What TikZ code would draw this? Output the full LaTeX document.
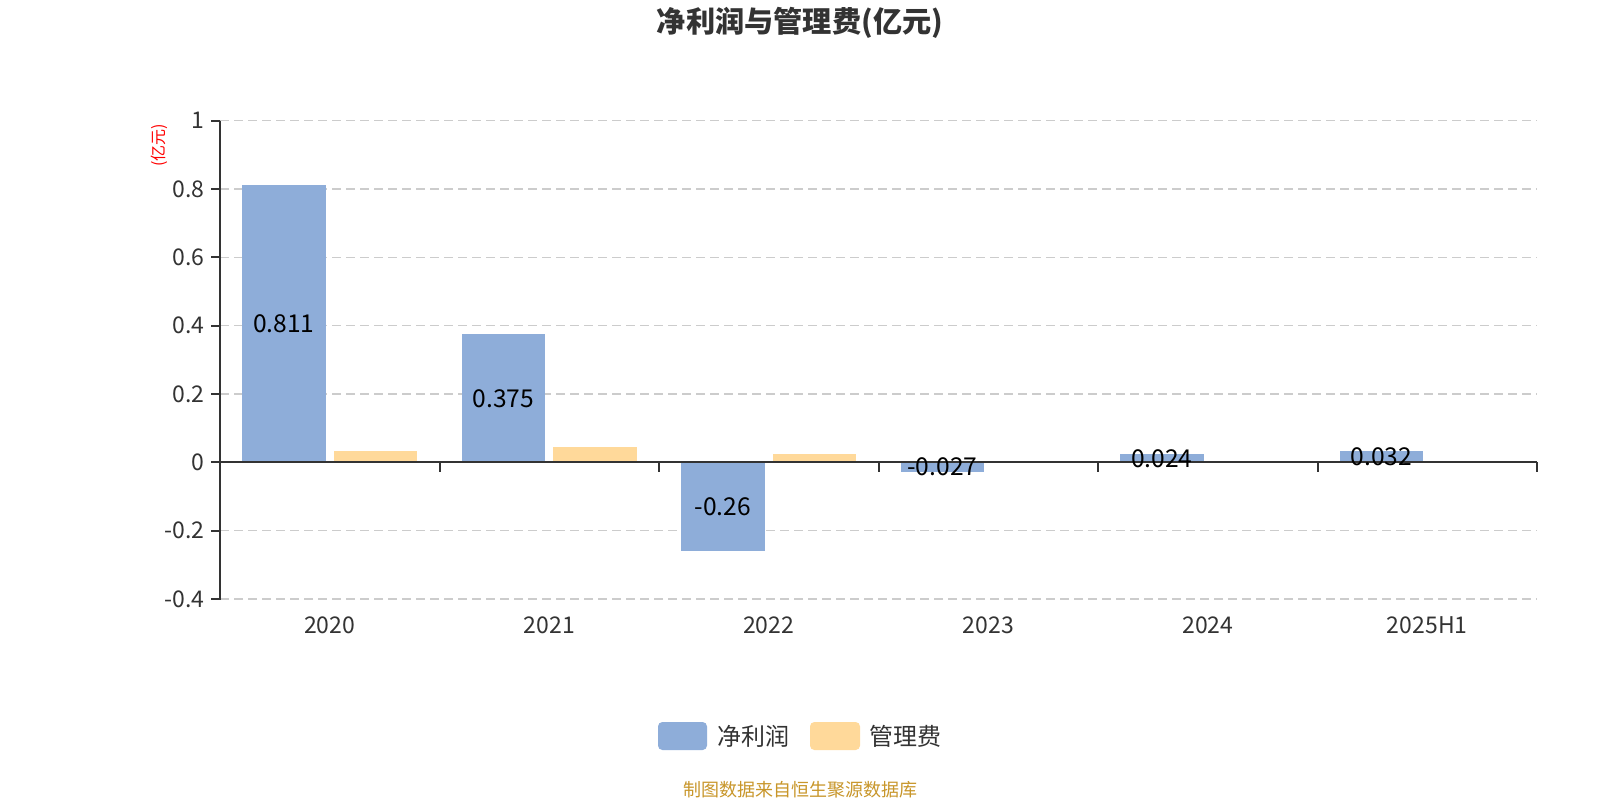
\documentclass[tikz,border=0pt]{standalone}
\usepackage{fontspec}
\setmainfont{Noto Sans CJK SC}
\definecolor{cblue}{HTML}{8EADD9}
\definecolor{corange}{HTML}{FFD99A}
\definecolor{axisc}{HTML}{333333}
\definecolor{gridc}{HTML}{CCCCCC}
\definecolor{footc}{HTML}{C8962A}
\definecolor{titlec}{HTML}{333333}
\tikzset{
  gridline/.style={draw=gridc, line width=0.65pt, dash pattern=on 4.5pt off 2.5pt},
  axisline/.style={draw=axisc, line width=1pt},
  netbar/.style={fill=cblue, draw=none},
  feebar/.style={fill=corange, draw=none},
  vallabel/.style={font=\fontsize{12.3}{14}\selectfont, text=black, inner sep=0pt},
  ticklabel/.style={font=\fontsize{11.5}{13}\selectfont, text=axisc, inner sep=0pt},
  catlabel/.style={font=\fontsize{11.5}{13}\selectfont, text=axisc, inner sep=0pt},
  legendbox/.style={rounded corners=2.2pt, draw=none},
  legendtext/.style={font=\fontsize{12}{14}\selectfont, text=axisc, inner sep=0pt, anchor=west},
}
\begin{document}
\begin{tikzpicture}[x=0.5pt,y=-0.5pt]
\useasboundingbox (0,0) rectangle (1600,800);
\fill[white] (0,0) rectangle (1600,800);
% grid
\foreach \v/\n in {1/a,0.8/b,0.6/c,0.4/d,0.2/e,-0.2/f,-0.4/g}{
  \coordinate (gl\n) at (220,{462.4-341.7*\v});
  \coordinate (gr\n) at (1537,{462.4-341.7*\v});
  \draw[gridline] (gl\n) -- (gr\n);
}
% bars
\foreach \i/\a/\b in {0/0.811/0.034,1/0.375/0.046,2/-0.26/0.025,3/-0.027/0.004,4/0.024/0.002,5/0.032/0.001}{
  \pgfmathsetmacro{\c}{220+219.5*(\i+0.5)}
  \fill[netbar] ({\c-87.7},462.4) rectangle ({\c-4.2},{462.4-341.7*\a});
  \fill[feebar] ({\c+4.2},462.4) rectangle ({\c+87.7},{462.4-341.7*\b});
}
% axes
\coordinate (ytop) at (220,120.7);
\coordinate (ybot) at (220,600);
\coordinate (xl) at (220,462.4);
\coordinate (xr) at (1537,462.4);
\draw[axisline] (ytop) -- (ybot);
\draw[axisline] (xl) -- (xr);
\foreach \v/\t/\n in {1/1/a,0.8/0.8/b,0.6/0.6/c,0.4/0.4/d,0.2/0.2/e,0/0/z,-0.2/-0.2/f,-0.4/-0.4/g}{
  \coordinate (tk\n) at (211,{462.4-341.7*\v});
  \draw[axisline] (tk\n) -- ++(9,0);
  \node[ticklabel, anchor=east] (yl\n) at (205,{462.4-341.7*\v}) {\t};
}
\foreach \k in {0,...,6}{
  \coordinate (xt\k) at ({220+219.5*\k},462.4);
  \draw[axisline] (xt\k) -- ++(0,10);
}
% value labels (centred on the blue bars)
\foreach \i/\a/\lab in {0/0.811/0.811,1/0.375/0.375,2/-0.26/-0.26,3/-0.027/-0.027,4/0.024/0.024,5/0.032/0.032}{
  \pgfmathsetmacro{\c}{220+219.5*(\i+0.5)-45.95}
  \node[vallabel] (v\i) at (\c,{462.4-341.7*\a/2}) {\lab};
}
% category labels
\foreach \i/\y in {0/2020,1/2021,2/2022,3/2023,4/2024,5/2025H1}{
  \node[catlabel] (cat\i) at ({220+219.5*(\i+0.5)},625) {\y};
}
% title
\node[font=\fontsize{14.6}{16}\selectfont\bfseries, text=titlec, inner sep=0pt] (title) at (800,23) {净利润与管理费(亿元)};
% y unit
\node[font=\fontsize{8}{9}\selectfont, text=red, rotate=90, inner sep=0pt] (unit) at (159,145.5) {(亿元)};
% legend
\fill[legendbox, fill=cblue] (658,722) rectangle (707,750);
\node[legendtext] (l1) at (717,736) {净利润};
\fill[legendbox, fill=corange] (810,722) rectangle (860,750);
\node[legendtext] (l2) at (869,736) {管理费};
% footer
\node[font=\fontsize{9}{11}\selectfont, text=footc, inner sep=0pt] (foot) at (800,790) {制图数据来自恒生聚源数据库};
\end{tikzpicture}
\end{document}
